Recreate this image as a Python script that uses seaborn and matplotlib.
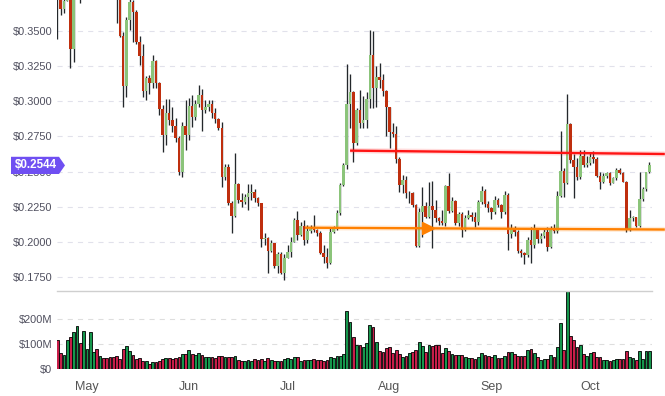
"""
Candlestick + volume chart (daily, Apr-Oct) with two horizontal levels.
"""

import matplotlib
matplotlib.use("Agg")
import matplotlib.pyplot as plt
import matplotlib.transforms as mtransforms
from matplotlib.patches import Polygon
import numpy as np
import pandas as pd
import seaborn as sns

# --- data --------------------------------------------------------------
start_date = "2018-04-22"
month_starts = ["2018-05-01", "2018-06-01", "2018-07-01",
                "2018-08-01", "2018-09-01", "2018-10-01"]
month_labels = ["May", "Jun", "Jul", "Aug", "Sep", "Oct"]

first_open = 0.380
closes = [
    0.376, 0.3654, 0.371, 0.382, 0.337, 0.380, 0.390, 0.384, 0.395, 0.410,
    0.420, 0.435, 0.430, 0.440, 0.425, 0.410, 0.400, 0.388, 0.3775, 0.3467,
    0.311, 0.3578, 0.3708, 0.3637, 0.3424, 0.3322, 0.3075, 0.3164, 0.3132, 0.3287,
    0.3128, 0.2943, 0.276, 0.2915, 0.2867, 0.2824, 0.2739, 0.2499, 0.2824, 0.276,
    0.2967, 0.2888, 0.2981, 0.3045, 0.2938, 0.2960, 0.2981, 0.2914, 0.2872, 0.2810,
    0.2458, 0.2535, 0.2274, 0.2184, 0.2410, 0.2298, 0.2286, 0.2321, 0.2345, 0.2357,
    0.2314, 0.2274, 0.2019, 0.2030, 0.1937, 0.1994, 0.1831, 0.1914, 0.1781, 0.1888,
    0.1930, 0.1997, 0.2156, 0.2049, 0.2113, 0.2014, 0.2078, 0.2092, 0.2085, 0.2063,
    0.1919, 0.1895, 0.1848, 0.2073, 0.2108, 0.2203, 0.2405, 0.2547, 0.2981, 0.3064,
    0.2706, 0.2938, 0.2848, 0.2867, 0.3016, 0.3329, 0.3092, 0.3171, 0.3152, 0.3075,
    0.2957, 0.2779, 0.2765, 0.2588, 0.2405, 0.2440, 0.2346, 0.2350, 0.2262, 0.1971,
    0.2215, 0.2255, 0.2175, 0.2255, 0.2230, 0.2168, 0.2151, 0.2137, 0.2398, 0.2220,
    0.2291, 0.2132, 0.2196, 0.2085, 0.2168, 0.2191, 0.2175, 0.2139, 0.2286, 0.2362,
    0.2270, 0.2239, 0.2215, 0.2298, 0.2262, 0.2215, 0.2334, 0.2054, 0.2089, 0.2073,
    0.1938, 0.1919, 0.1905, 0.2014, 0.1978, 0.2092, 0.2021, 0.2042, 0.2073, 0.1966,
    0.2092, 0.2078, 0.2329, 0.2504, 0.2417, 0.2839, 0.2583, 0.2535, 0.2464, 0.2611,
    0.2547, 0.2563, 0.2601, 0.2587, 0.2469, 0.2429, 0.2469, 0.2488, 0.2421, 0.2457,
    0.2511, 0.2488, 0.2429, 0.2085, 0.2168, 0.2175, 0.2113, 0.2305, 0.2374, 0.2495,
    0.2544,
]
highs = [
    0.392, 0.380, 0.375, 0.390, 0.386, 0.392, 0.398, 0.395, 0.402, 0.418,
    0.428, 0.442, 0.440, 0.448, 0.445, 0.428, 0.415, 0.402, 0.392, 0.385,
    0.349, 0.360, 0.374, 0.372, 0.365, 0.3465, 0.3408, 0.318, 0.319, 0.3329,
    0.3294, 0.314, 0.2974, 0.3016, 0.3016, 0.2962, 0.2881, 0.2753, 0.2855, 0.3009,
    0.3023, 0.3045, 0.3009, 0.3115, 0.3085, 0.3009, 0.3009, 0.3009, 0.2950, 0.2880,
    0.2855, 0.2555, 0.2555, 0.2290, 0.2634, 0.2420, 0.2346, 0.2340, 0.2410, 0.2410,
    0.2378, 0.2320, 0.2280, 0.2063, 0.2035, 0.2010, 0.1990, 0.1930, 0.1930, 0.1914,
    0.1978, 0.2037, 0.2168, 0.2222, 0.2140, 0.2156, 0.2120, 0.2120, 0.2191, 0.2090,
    0.2075, 0.1978, 0.1955, 0.2099, 0.2115, 0.2227, 0.2419, 0.2560, 0.3265, 0.3194,
    0.3070, 0.2955, 0.3080, 0.3038, 0.3064, 0.3507, 0.3500, 0.3251, 0.3275, 0.3194,
    0.3080, 0.2960, 0.2843, 0.2824, 0.2606, 0.2476, 0.2469, 0.2360, 0.2355, 0.2270,
    0.2241, 0.2393, 0.2286, 0.2428, 0.2433, 0.2298, 0.2175, 0.2227, 0.2405, 0.2492,
    0.2322, 0.2300, 0.2215, 0.2210, 0.2190, 0.2225, 0.2215, 0.2215, 0.2300, 0.2398,
    0.2375, 0.2290, 0.2250, 0.2329, 0.2310, 0.2270, 0.2362, 0.2345, 0.2130, 0.2110,
    0.2085, 0.1950, 0.1925, 0.2035, 0.2108, 0.2128, 0.2100, 0.2060, 0.2095, 0.2108,
    0.2110, 0.2128, 0.2362, 0.2789, 0.2523, 0.3052, 0.2845, 0.2625, 0.2597, 0.2655,
    0.2654, 0.2611, 0.2642, 0.2649, 0.2606, 0.2500, 0.2488, 0.2500, 0.2500, 0.2464,
    0.2523, 0.2523, 0.2495, 0.2435, 0.2227, 0.2184, 0.2180, 0.2495, 0.2388, 0.2500,
    0.2566,
]
lows = [
    0.344, 0.3614, 0.3625, 0.3725, 0.324, 0.3277, 0.376, 0.370, 0.380, 0.390,
    0.405, 0.415, 0.420, 0.425, 0.415, 0.400, 0.392, 0.380, 0.3559, 0.3455,
    0.296, 0.303, 0.3507, 0.3424, 0.341, 0.3258, 0.3033, 0.301, 0.305, 0.3094,
    0.3092, 0.2903, 0.2641, 0.2689, 0.2831, 0.2784, 0.2713, 0.2475, 0.2464, 0.2654,
    0.2725, 0.2817, 0.2870, 0.2960, 0.2790, 0.2920, 0.2930, 0.2881, 0.2845, 0.2795,
    0.2393, 0.2440, 0.2262, 0.2061, 0.2175, 0.2279, 0.2246, 0.2270, 0.2227, 0.2298,
    0.2286, 0.2257, 0.1966, 0.1978, 0.1781, 0.1925, 0.1812, 0.1777, 0.1775, 0.1729,
    0.1886, 0.1895, 0.2000, 0.2014, 0.2040, 0.1978, 0.1990, 0.2060, 0.2070, 0.2045,
    0.1914, 0.1850, 0.1812, 0.1843, 0.2063, 0.2085, 0.2190, 0.2398, 0.2520, 0.2808,
    0.2566, 0.2689, 0.2813, 0.2813, 0.2813, 0.2955, 0.2955, 0.2962, 0.3092, 0.3040,
    0.2753, 0.2666, 0.2748, 0.2559, 0.2357, 0.2345, 0.2312, 0.2275, 0.2250, 0.1966,
    0.1966, 0.2037, 0.2170, 0.2170, 0.1957, 0.2141, 0.2120, 0.2120, 0.2115, 0.2205,
    0.2210, 0.2120, 0.2110, 0.2033, 0.2075, 0.2165, 0.2150, 0.2108, 0.2120, 0.2270,
    0.2245, 0.2215, 0.2160, 0.2200, 0.2245, 0.2170, 0.2200, 0.1942, 0.2030, 0.2045,
    0.1920, 0.1895, 0.1840, 0.1890, 0.1852, 0.1960, 0.1995, 0.1990, 0.2030, 0.1938,
    0.1955, 0.2060, 0.2065, 0.2320, 0.2322, 0.2410, 0.2560, 0.2310, 0.2440, 0.2450,
    0.2535, 0.2535, 0.2550, 0.2563, 0.2464, 0.2374, 0.2421, 0.2452, 0.2405, 0.2417,
    0.2440, 0.2480, 0.2425, 0.2073, 0.2078, 0.2151, 0.2108, 0.2105, 0.2290, 0.2360,
    0.2490,
]
# daily volume in millions of USD
volumes = [
    118, 64, 56, 117, 129, 149, 173, 106, 153, 82,
    149, 68, 80, 52, 44, 44, 48, 50, 52, 42,
    80, 93, 74, 56, 40, 44, 32, 32, 21, 28,
    28, 31, 40, 44, 44, 42, 44, 48, 59, 59,
    76, 59, 56, 64, 56, 50, 50, 50, 44, 52,
    51, 48, 48, 48, 52, 36, 34, 34, 38, 34,
    40, 38, 40, 34, 44, 36, 34, 34, 34, 40,
    44, 42, 48, 48, 34, 36, 36, 36, 40, 38,
    38, 34, 36, 48, 44, 52, 52, 62, 234, 188,
    129, 97, 95, 89, 105, 177, 168, 109, 74, 70,
    83, 89, 66, 76, 62, 48, 52, 66, 70, 76,
    110, 91, 70, 97, 94, 97, 97, 64, 85, 74,
    59, 55, 55, 55, 48, 44, 44, 40, 48, 64,
    56, 52, 50, 56, 44, 44, 52, 68, 68, 60,
    52, 52, 52, 76, 80, 64, 48, 36, 40, 40,
    56, 48, 89, 183, 76, 312, 133, 117, 89, 97,
    60, 52, 64, 70, 48, 48, 36, 36, 32, 36,
    40, 40, 40, 74, 48, 44, 36, 74, 40, 74,
    74,
]

price_ticks = [0.175, 0.200, 0.225, 0.250, 0.275, 0.300, 0.325, 0.350]
volume_ticks = [0, 100, 200]
volume_labels = ["$0", "$100M", "$200M"]
last_price = 0.2544

# horizontal levels drawn on the chart (day index, price)
resistance_x = [89.0, 184.7]
resistance_y = [0.2649, 0.2625]
support_x = [75.3, 184.7]
support_y = [0.2101, 0.2088]
support_arrow_x = 112.7

# --- colours ------------------------------------------------------------
CANDLE_UP = "#8bc47a"
CANDLE_DOWN = "#bf2f0e"
WICK = "#23272b"
VOL_UP = "#00ad4a"
VOL_DOWN = "#e4003b"
TAG = "#6f4ff2"

df = pd.DataFrame({"day": np.arange(len(closes)), "close": closes,
                   "high": highs, "low": lows, "volume": volumes})
df["open"] = [first_open] + closes[:-1]
df["direction"] = np.where(df["close"] >= df["open"], "up", "down")

sns.set_theme(style="white")
plt.rcParams["font.family"] = ["Liberation Sans", "DejaVu Sans"]

W, H = 665, 396
fig = plt.figure(figsize=(W / 100, H / 100), dpi=100)
ax = fig.add_axes([57 / W, 106 / H, 595 / W, 290 / H])
axv = fig.add_axes([57 / W, 27 / H, 595 / W, 78 / H])

# price panel: wicks and bodies
hi = np.maximum(df["high"], np.maximum(df["open"], df["close"]))
lo = np.minimum(df["low"], np.minimum(df["open"], df["close"]))
ax.vlines(df["day"], lo, hi, color=WICK, lw=0.95, zorder=2)
body_bottom = np.minimum(df["open"], df["close"])
body_height = np.maximum(np.abs(df["close"] - df["open"]), 0.0005)
body_colors = np.where(df["direction"] == "up", CANDLE_UP, CANDLE_DOWN)
ax.bar(df["day"], body_height, bottom=body_bottom, width=0.78,
       color=body_colors, linewidth=0, zorder=3)

# levels
for xs, ys, col in [(resistance_x, resistance_y, "#ff1414"),
                    (support_x, support_y, "#ff8000")]:
    ax.plot(xs, ys, color=col, lw=3.8, alpha=0.15, clip_on=False,
            solid_capstyle="butt", zorder=4)
    ax.plot(xs, ys, color=col, lw=1.7, clip_on=False,
            solid_capstyle="butt", zorder=5)
ax.plot([support_arrow_x], [np.interp(support_arrow_x, support_x, support_y)],
        marker=">", ms=8.5, color="#ff8000", mec="#ff8000", zorder=6)

ax.set_xlim(-0.1, 180.8)
ax.set_ylim(0.1658, 0.3720)
ax.set_yticks(price_ticks)
ax.set_yticklabels([f"${v:.4f}" for v in price_ticks])
ax.tick_params(axis="y", length=0, pad=3.5, labelsize=7.9, labelcolor="#4f4f5e")
ax.tick_params(axis="x", length=0, labelbottom=False)
ax.set_xticks([])
ax.yaxis.grid(True, color="#e1e1eb", lw=0.8, ls=(0, (4.6, 4.6)))
ax.set_axisbelow(True)
for s in ax.spines.values():
    s.set_visible(False)

# top label cut off by the figure edge
ax.text(-4 / 595, 0.375, "$0.3750", transform=ax.get_yaxis_transform(),
        ha="right", va="center", fontsize=7.9, color="#4f4f5e", clip_on=False)

# last price tag
tag_tr = mtransforms.blended_transform_factory(fig.transFigure, ax.transData)
half = 8.6 / 1406
tag = Polygon([(11 / W, last_price + half), (59 / W, last_price + half),
               (65 / W, last_price), (59 / W, last_price - half),
               (11 / W, last_price - half)], closed=True,
              facecolor=TAG, edgecolor="none", transform=tag_tr,
              clip_on=False, zorder=10)
fig.patches.append(tag)
fig.text(36 / W, last_price, f"${last_price:.4f}", transform=tag_tr,
         ha="center", va="center", color="white", fontsize=8.4,
         fontweight="bold", zorder=11)

# volume panel
for v in volume_ticks[1:]:
    axv.axhline(v, color="#dedede", lw=0.8, ls=(0, (4.6, 4.6)), zorder=0)
sns.barplot(data=df, x="day", y="volume", hue="direction",
            palette={"up": VOL_UP, "down": VOL_DOWN}, native_scale=True,
            dodge=False, width=0.85, errorbar=None, edgecolor="black",
            linewidth=0.6, legend=False, ax=axv, zorder=2)
axv.set_xlim(-0.1, 180.8)
axv.set_ylim(0, 312)
axv.set_yticks(volume_ticks)
axv.set_yticklabels(volume_labels)
month_pos = (pd.to_datetime(month_starts) - pd.Timestamp(start_date)).days
axv.set_xticks(month_pos)
axv.set_xticklabels(month_labels)
axv.set_xlabel("")
axv.set_ylabel("")
axv.tick_params(axis="y", length=0, pad=3.5, labelsize=7.9, labelcolor="#4f4f5e")
axv.tick_params(axis="x", length=4, width=0.8, color="#c8c8c8", pad=4.5,
                labelsize=9, labelcolor="#555555")
for name, s in axv.spines.items():
    s.set_visible(name == "top")
axv.spines["top"].set_color("#cfcfcf")
axv.spines["top"].set_linewidth(1.0)

fig.savefig("out.png", dpi=100)
